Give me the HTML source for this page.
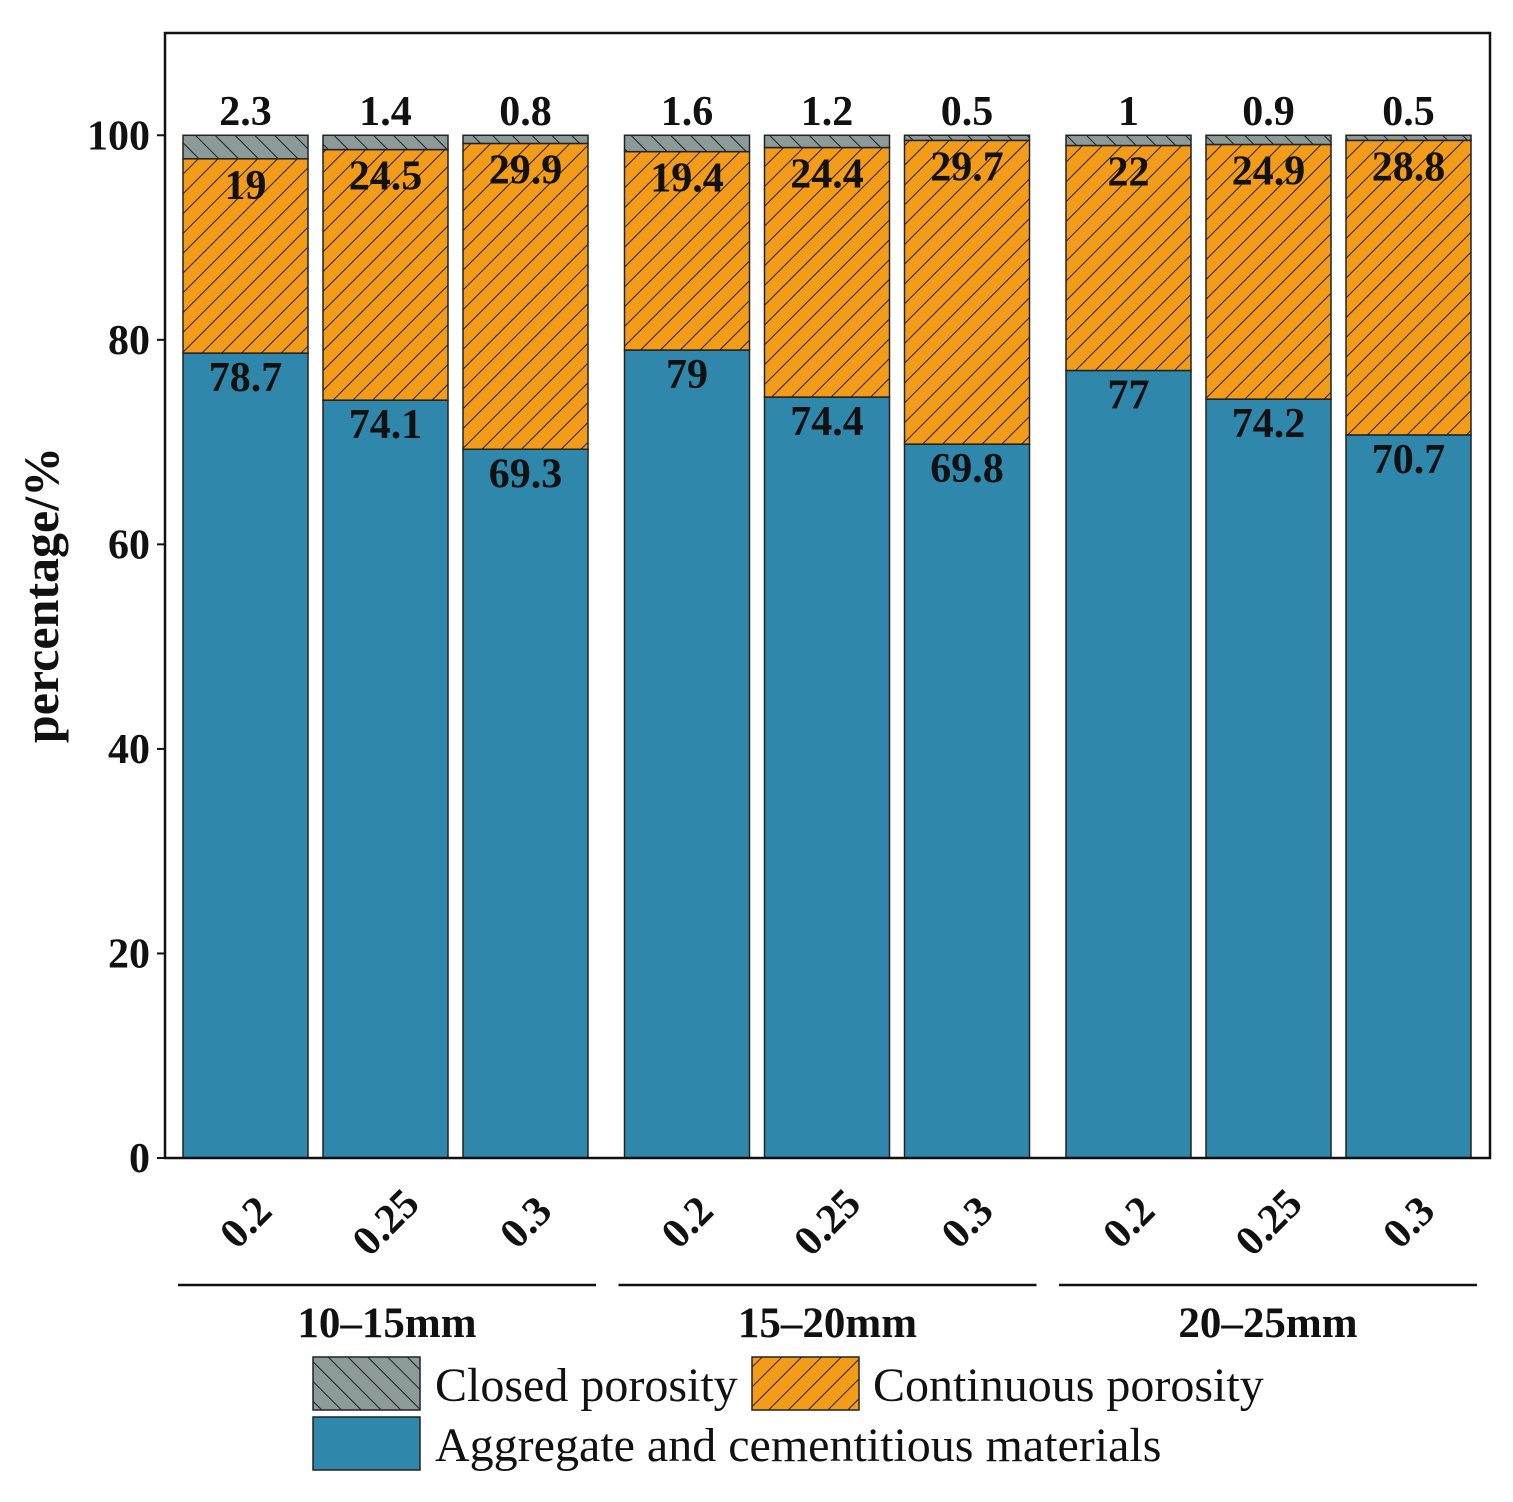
<!DOCTYPE html>
<html><head><meta charset="utf-8"><style>
html,body{margin:0;padding:0;background:#fff;}
svg{display:block;font-family:"Liberation Serif",serif;}
</style></head><body>
<svg id="chart" width="1513" height="1502" viewBox="0 0 1513 1502" xmlns="http://www.w3.org/2000/svg">
<defs>
<pattern id="hatchO" patternUnits="userSpaceOnUse" width="14" height="14" patternTransform="rotate(45)">
<rect width="14" height="14" fill="#f39c1a"/><line x1="0" y1="0" x2="0" y2="14" stroke="#111" stroke-width="1.8"/></pattern>
<pattern id="hatchG" patternUnits="userSpaceOnUse" width="14" height="14" patternTransform="rotate(-45)">
<rect width="14" height="14" fill="#8c9a9a"/><line x1="0" y1="0" x2="0" y2="14" stroke="#111" stroke-width="1.8"/></pattern>
</defs>
<g id="plot"></g>
</svg>
<script>
const groups = ["10–15mm","15–20mm","20–25mm"];
const ratios = ["0.2","0.25","0.3"];
const aggregate = [78.7,74.1,69.3,79,74.4,69.8,77,74.2,70.7];
const continuous = [19,24.5,29.9,19.4,24.4,29.7,22,24.9,28.8];
const closed = [2.3,1.4,0.8,1.6,1.2,0.5,1,0.9,0.5];
const yTicks = [0,20,40,60,80,100];

const NS="http://www.w3.org/2000/svg";
const g=document.getElementById('plot');
const X0=165,X1=1490,Y0=1158,YT=33,YMAX=110;
const y=v=>Y0-(Y0-YT)*v/YMAX;
const barW=125, barStep=140, groupStep=441.5, firstX=183;
const bx=i=>firstX+Math.floor(i/3)*groupStep+(i%3)*barStep;
function el(tag,attrs,text){const e=document.createElementNS(NS,tag);for(const k in attrs)e.setAttribute(k,attrs[k]);if(text!==undefined)e.textContent=text;g.appendChild(e);return e;}

for(let i=0;i<aggregate.length;i++){
  const x=bx(i);
  const a=aggregate[i],c=continuous[i],cl=closed[i];
  let r=el('rect',{x:x,y:y(a),width:barW,height:y(0)-y(a),fill:'#2f87ab',stroke:'#222','stroke-width':1.5});
  
  
  r=el('rect',{x:x,y:y(a+c),width:barW,height:y(a)-y(a+c),fill:'url(#hatchO)',stroke:'#222','stroke-width':1.5});
  
  
  r=el('rect',{x:x,y:y(a+c+cl),width:barW,height:y(a+c)-y(a+c+cl),fill:'url(#hatchG)',stroke:'#222','stroke-width':1.5});
  
  
  const cx=x+barW/2;
  let t=el('text',{x:cx,y:y(a)+38,'text-anchor':'middle','font-size':42,'font-weight':'bold',fill:'#111'},String(a));
  
  
  t=el('text',{x:cx,y:y(a+c)+40,'text-anchor':'middle','font-size':42,'font-weight':'bold',fill:'#111'},String(c));
  
  
  t=el('text',{x:cx,y:125,'text-anchor':'middle','font-size':42,'font-weight':'bold',fill:'#111'},String(cl));
  
  
  t=el('text',{x:cx,y:1236,'text-anchor':'middle','font-size':42,'font-weight':'bold',fill:'#111',transform:`rotate(-45 ${cx} 1222)`},ratios[i%3]);
  
  
}
let f=el('rect',{x:X0,y:YT,width:X1-X0,height:Y0-YT,fill:'none',stroke:'#111','stroke-width':2.5});


yTicks.forEach(v=>{
  el('line',{x1:X0,x2:X0-8,y1:y(v),y2:y(v),stroke:'#111','stroke-width':2});
  const t=el('text',{x:150,y:y(v)+14,'text-anchor':'end','font-size':42,'font-weight':'bold',fill:'#111'},String(v));
  
  
});
let yt=el('text',{x:58,y:595,'text-anchor':'middle','font-size':50,'font-weight':'bold',fill:'#111',transform:'rotate(-90 58 595)'},'percentage/%');


groups.forEach((name,k)=>{
  const gx=178+k*440.5;
  let l=el('line',{x1:gx,x2:gx+418,y1:1285,y2:1285,stroke:'#111','stroke-width':2.5});
  
  
  const t=el('text',{x:gx+209,y:1337,'text-anchor':'middle','font-size':43,'font-weight':'bold',fill:'#111'},name);
  
  
});
const legend=[["url(#hatchG)",313,1357,"Closed porosity",435,1401],["url(#hatchO)",752,1357,"Continuous porosity",873,1401],["#2f87ab",313,1417,"Aggregate and cementitious materials",435,1461]];
legend.forEach(L=>{
  let r=el('rect',{x:L[1],y:L[2],width:107,height:53,fill:L[0],stroke:'#222','stroke-width':1.5});
  
  
  const t=el('text',{x:L[4],y:L[5],'font-size':48,fill:'#111'},L[3]);
  
  
});
</script>
</body></html>
